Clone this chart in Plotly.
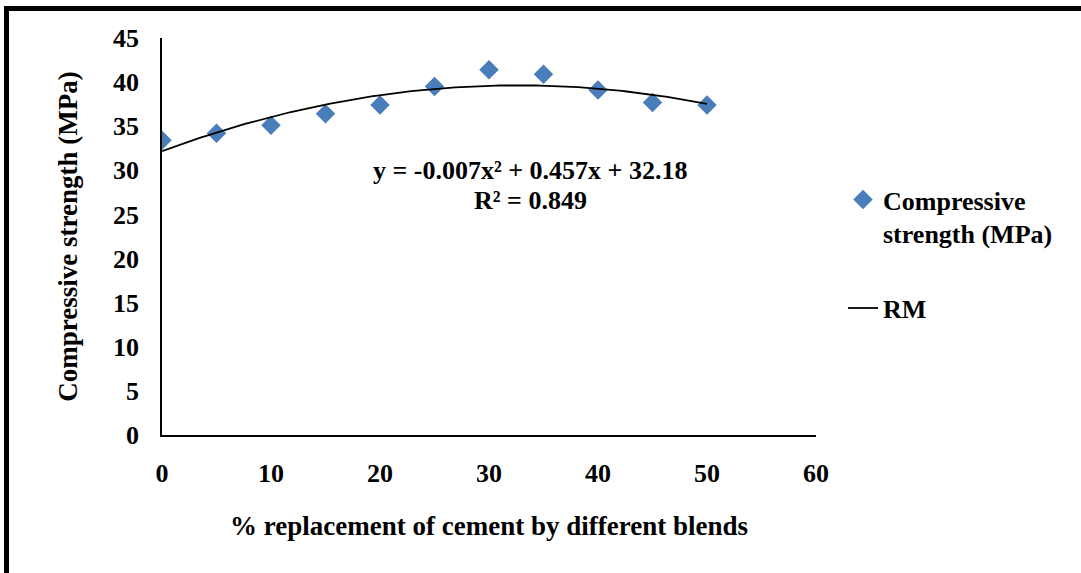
import numpy as np
import plotly.graph_objects as go

# Data
replacement_pct = [0, 5, 10, 15, 20, 25, 30, 35, 40, 45, 50]
compressive_mpa = [33.4, 34.2, 35.1, 36.4, 37.4, 39.5, 41.4, 40.9, 39.1, 37.7, 37.4]
trend_coeffs = [-0.007, 0.457, 32.18]  # quadratic trendline shown on chart
equation_text = "y = -0.007x² + 0.457x + 32.18"
r2_text = "R² = 0.849"
x_ticks = [0, 10, 20, 30, 40, 50, 60]
y_ticks = [0, 5, 10, 15, 20, 25, 30, 35, 40, 45]

FONT = "Liberation Serif"
W, H = 1081, 573
L, R, T, B = 162, 265, 38, 138
pw, ph = W - L - R, H - T - B

def px_x(p):
    return (p - L) / pw

def px_y(p):
    return (H - B - p) / ph

xs = np.linspace(min(replacement_pct), max(replacement_pct), 200)
ys = np.polyval(trend_coeffs, xs)

fig = go.Figure()
fig.add_trace(go.Scatter(
    x=replacement_pct, y=compressive_mpa, mode="markers",
    name="Compressive<br>strength (MPa)",
    marker=dict(symbol="diamond", size=15, color="#4A7EBB"),
    legendgroup="a",
))
fig.add_trace(go.Scatter(
    x=xs, y=ys, mode="lines", name="RM",
    line=dict(color="black", width=1.8),
    legendgroup="b",
))

fig.add_annotation(
    x=px_x(530), y=px_y(170), xref="paper", yref="paper",
    xanchor="center", yanchor="middle",
    text=equation_text, showarrow=False,
    font=dict(family=FONT, size=26, color="black", weight="bold"),
)
fig.add_annotation(
    x=px_x(530), y=px_y(200), xref="paper", yref="paper",
    xanchor="center", yanchor="middle",
    text=r2_text, showarrow=False,
    font=dict(family=FONT, size=26, color="black", weight="bold"),
)

# outer frame (top and left edges visible)
fig.add_shape(type="line", xref="paper", yref="paper",
              x0=px_x(6.5), y0=px_y(8.5), x1=px_x(1100), y1=px_y(8.5),
              line=dict(color="black", width=5))
fig.add_shape(type="line", xref="paper", yref="paper",
              x0=px_x(6.5), y0=px_y(6), x1=px_x(6.5), y1=px_y(600),
              line=dict(color="black", width=5))

fig.update_layout(
    width=W, height=H,
    margin=dict(l=L, r=R, t=T, b=B, autoexpand=False),
    paper_bgcolor="white", plot_bgcolor="white",
    font=dict(family=FONT, size=26, color="black", weight="bold"),
    showlegend=True,
    legend=dict(
        x=px_x(843), y=px_y(176), xanchor="left", yanchor="top",
        valign="top", tracegroupgap=38,
        font=dict(family=FONT, size=26, color="black", weight="bold"),
        bgcolor="rgba(0,0,0,0)",
    ),
    xaxis=dict(
        range=[0, 60], tickvals=x_ticks, showgrid=False, zeroline=False,
        showline=True, linecolor="black", linewidth=1.5, ticks="",
        ticklabelstandoff=14,
        title=dict(text="% replacement of cement by different blends", standoff=29,
                   font=dict(family=FONT, size=27, weight="bold")),
    ),
    yaxis=dict(
        range=[0, 45], tickvals=y_ticks, showgrid=False, zeroline=False,
        showline=True, linecolor="black", linewidth=1.5, ticks="",
        ticklabelstandoff=16,
        title=dict(text="Compressive strength (MPa)", standoff=28,
                   font=dict(family=FONT, size=27, weight="bold")),
    ),
)

fig.write_html("out.html")
